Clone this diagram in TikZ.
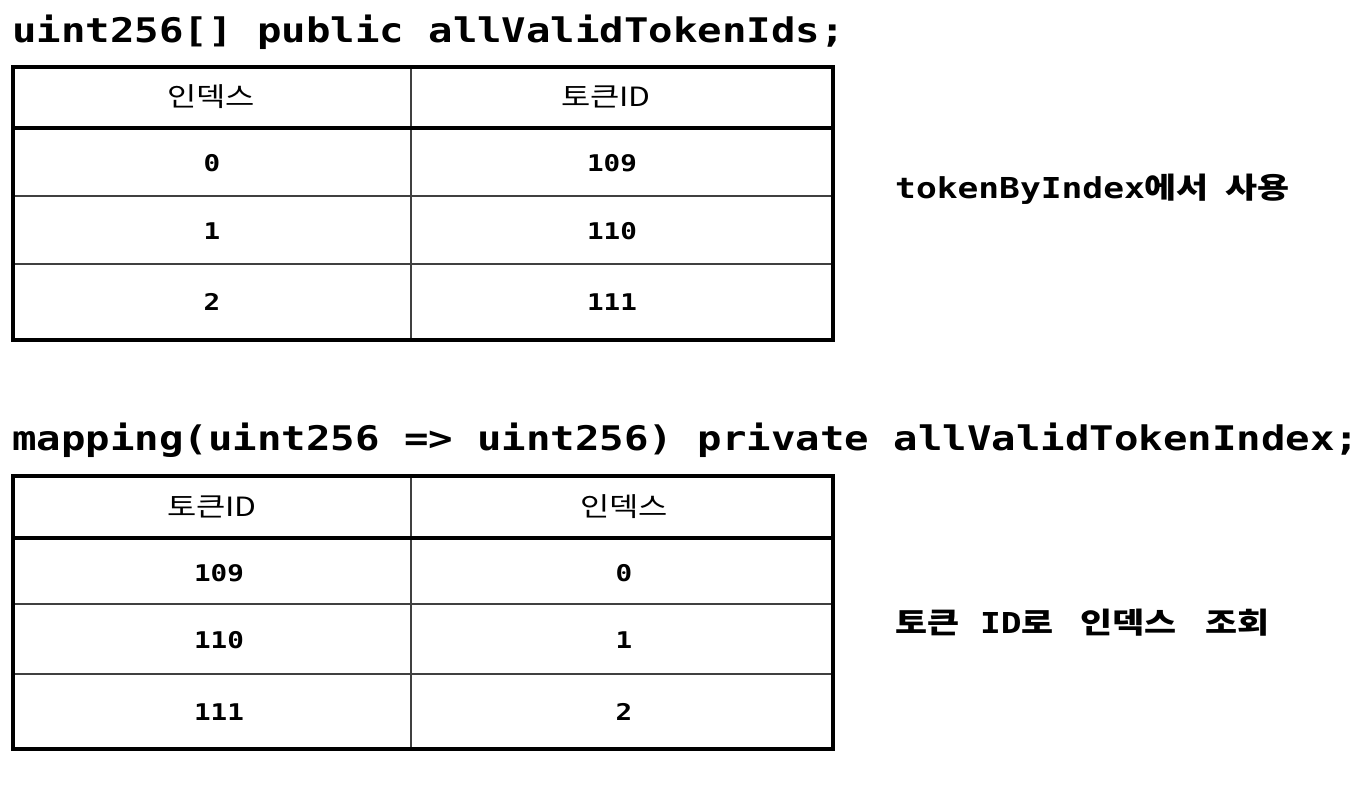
\documentclass[tikz,border=0pt]{standalone}
\usepackage{fontspec}
\usepackage{tikz}
\newfontfamily\codefont[FakeStretch=1.2]{DejaVu Sans Mono}
\newfontfamily\krfont[FakeStretch=1.2]{Noto Sans CJK KR}
\newcommand{\kr}[1]{{\krfont\fontsize{29}{32}\selectfont #1}}

\begin{document}
\begin{tikzpicture}[x=1pt,y=-1pt,
    title/.style={anchor=base west,inner sep=0pt,font=\codefont\bfseries\fontsize{33.9}{36}\selectfont},
    head/.style={inner sep=0pt,font=\krfont\fontsize{26.5}{30}\selectfont},
    num/.style={inner sep=0pt,font=\codefont\bfseries\fontsize{23}{26}\selectfont},
    note/.style={anchor=base west,inner sep=0pt,font=\codefont\bfseries\fontsize{28.8}{30}\selectfont},
    frame/.style={line width=3.2pt},
    rowline/.style={line width=1.5pt,black!75}]
    \useasboundingbox (0,0) rectangle (1372,784);
    % upper table
    \node[title] (arr) at (12,42) {uint256[] public allValidTokenIds;};
    \draw[rowline] (13,196) -- (833,196);
    \draw[rowline] (13,264) -- (833,264);
    \draw[rowline] (411,67) -- (411,340);
    \draw[frame] (13,128) -- (833,128);
    \draw[frame] (13,67) rectangle (833,340);
    \node[head] (a-idx) at (211,97) {인덱스};
    \node[head] (a-id) at (606,97) {토큰ID};
    \node[num] (a-i0) at (212,163) {0};
    \node[num] (a-v0) at (612,163) {109};
    \node[num] (a-i1) at (212,231) {1};
    \node[num] (a-v1) at (612,231) {110};
    \node[num] (a-i2) at (212,302) {2};
    \node[num] (a-v2) at (612,302) {111};
    \node[note] (use) at (895,198) {tokenByIndex\kr{에서}\hspace{-4pt} \kr{사용}};
    % lower table
    \node[title] (map) at (12,450) {mapping(uint256 => uint256) private allValidTokenIndex;};
    \draw[rowline] (13,604) -- (833,604);
    \draw[rowline] (13,674) -- (833,674);
    \draw[rowline] (411,476) -- (411,749);
    \draw[frame] (13,538) -- (833,538);
    \draw[frame] (13,476) rectangle (833,749);
    \node[head] (b-id) at (212,507) {토큰ID};
    \node[head] (b-idx) at (624,507) {인덱스};
    \node[num] (b-v0) at (219,573) {109};
    \node[num] (b-i0) at (624,573) {0};
    \node[num] (b-v1) at (219,640) {110};
    \node[num] (b-i1) at (624,640) {1};
    \node[num] (b-v2) at (219,712) {111};
    \node[num] (b-i2) at (624,712) {2};
    \node[note] (lookup) at (895,633) {\kr{토큰} ID\kr{로} \hspace{6pt}\kr{인덱스} \hspace{8pt}\kr{조회}};
  \end{tikzpicture}
\end{document}
